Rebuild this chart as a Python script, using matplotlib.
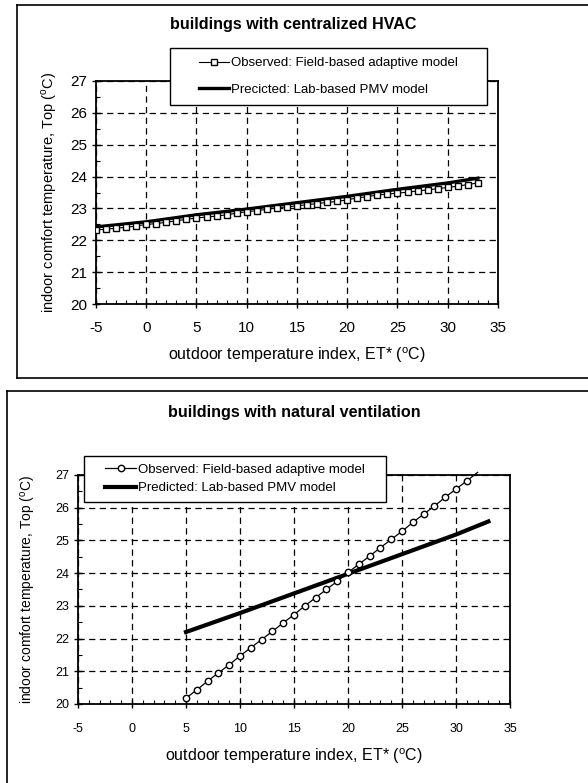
"""Comfort temperature vs outdoor ET*: field-based adaptive vs lab-based PMV."""

import matplotlib

matplotlib.use("Agg")
import matplotlib.pyplot as plt
from matplotlib.lines import Line2D
from matplotlib.patches import Rectangle
from matplotlib.ticker import MultipleLocator

plt.rcParams["font.family"] = ["Liberation Sans", "DejaVu Sans"]
plt.rcParams["mathtext.fontset"] = "custom"
plt.rcParams["mathtext.rm"] = "Liberation Sans"
plt.rcParams["axes.unicode_minus"] = False

# --- centralized HVAC -------------------------------------------------------
hvac_x = list(range(-5, 34))
hvac_observed = [22.32, 22.35, 22.38, 22.41, 22.45, 22.50, 22.52, 22.57, 22.61,
                 22.66, 22.70, 22.73, 22.76, 22.80, 22.85, 22.90, 22.93, 22.97,
                 23.02, 23.05, 23.08, 23.12, 23.15, 23.19, 23.22, 23.27, 23.33,
                 23.37, 23.42, 23.45, 23.48, 23.51, 23.55, 23.58, 23.62, 23.66,
                 23.70, 23.75, 23.80]
hvac_pmv_x = [-5, 0, 5, 10, 15, 20, 25, 30, 33]
hvac_pmv = [22.42, 22.58, 22.80, 22.98, 23.18, 23.38, 23.60, 23.80, 23.95]

# --- natural ventilation ----------------------------------------------------
nv_x = list(range(5, 33))
nv_observed = [20.18, 20.43, 20.70, 20.95, 21.20, 21.47, 21.72, 21.97, 22.22,
               22.48, 22.73, 23.00, 23.25, 23.50, 23.75, 24.02, 24.27, 24.52,
               24.78, 25.03, 25.28, 25.55, 25.80, 26.05, 26.32, 26.57, 26.82,
               27.08]
nv_pmv_x = [5, 10, 15, 20, 25, 30, 33]
nv_pmv = [22.20, 22.78, 23.38, 23.98, 24.58, 25.18, 25.58]

W, H = 588, 783
fig = plt.figure(figsize=(W / 100, H / 100), dpi=100)


def px_axes(left, top, right, bottom):
    return fig.add_axes([left / W, 1 - bottom / H, (right - left) / W, (bottom - top) / H])


def style_axes(ax, fs, pad):
    ax.set_xlim(-5, 35)
    ax.set_ylim(20, 27)
    ax.xaxis.set_major_locator(MultipleLocator(5))
    ax.yaxis.set_major_locator(MultipleLocator(1))
    ax.xaxis.set_minor_locator(MultipleLocator(1))
    ax.yaxis.set_minor_locator(MultipleLocator(0.5))
    ax.tick_params(which="major", direction="inout", length=6, width=1,
                   labelsize=fs, top=False, right=False)
    ax.tick_params(axis="x", which="major", pad=pad)
    ax.tick_params(which="minor", direction="in", length=3, width=0.8)
    ax.grid(True, which="major", color="black", linewidth=0.9,
            linestyle=(0, (5, 3.5)))
    for s in ax.spines.values():
        s.set_linewidth(1.3)


def frame(x0, y0, x1, y1):
    for xs, ys in [((x0, x0), (y0, y1)), ((x0, x1), (y0, y0)), ((x0, x1), (y1, y1))]:
        fig.add_artist(Line2D([x / W for x in xs], [1 - y / H for y in ys],
                              color="black", linewidth=1.2))


def legend_box(ax, x0, y0, x1, y1, spacing):
    fig.add_artist(Rectangle((x0 / W, 1 - y1 / H), (x1 - x0) / W, (y1 - y0) / H,
                             transform=fig.transFigure, facecolor="white",
                             edgecolor="black", linewidth=1.0, zorder=5))
    leg = ax.legend(loc="center", bbox_to_anchor=((x0 + x1) / 2 / W, 1 - (y0 + y1) / 2 / H),
                    bbox_transform=fig.transFigure, fontsize=9.5, frameon=False,
                    handlelength=2.3, handletextpad=0.15, borderpad=0.0,
                    labelspacing=spacing)
    leg.set_zorder(6)
    fig.add_artist(leg)
    leg.remove = None


# top panel
frame(17, 5, 600, 378)
ax1 = px_axes(96, 81, 498, 304)
style_axes(ax1, 11, 9)
ax1.plot(hvac_x, hvac_observed, color="black", linewidth=0.8, marker="s",
         markersize=4.3, markerfacecolor="white", markeredgecolor="black",
         markeredgewidth=1.0, label="Observed: Field-based adaptive model", zorder=4)
ax1.plot(hvac_pmv_x, hvac_pmv, color="black", linewidth=2.4,
         label="Precicted: Lab-based PMV model", zorder=3)
ax1.set_xlabel(r"outdoor temperature index, ET* ($^{\rm o}$C)", fontsize=11.5, labelpad=8)
ax1.set_ylabel(r"indoor comfort temperature, Top ($^{\rm o}$C)", fontsize=10.5, labelpad=8)
fig.text(293 / W, 1 - 24 / H, "buildings with centralized HVAC", ha="center",
         va="center", fontsize=11.6, fontweight="bold")
legend_box(ax1, 170, 48, 487, 105, 1.1)

# bottom panel
frame(7, 391, 600, 790)
ax2 = px_axes(78, 475, 510, 704)
style_axes(ax2, 9, 11)
ax2.plot(nv_x, nv_observed, color="black", linewidth=0.9, marker="o",
         markersize=4.6, markerfacecolor="white", markeredgecolor="black",
         markeredgewidth=1.0, markevery=list(range(len(nv_x) - 1)),
         label="Observed: Field-based adaptive model", clip_on=False, zorder=4)
ax2.plot(nv_pmv_x, nv_pmv, color="black", linewidth=3.0,
         label="Predicted: Lab-based PMV model", zorder=3)
ax2.set_xlabel(r"outdoor temperature index, ET* ($^{\rm o}$C)", fontsize=11.5, labelpad=8)
ax2.set_ylabel(r"indoor comfort temperature, Top ($^{\rm o}$C)", fontsize=10, labelpad=12)
fig.text(294 / W, 1 - 412 / H, "buildings with natural ventilation", ha="center",
         va="center", fontsize=11.6, fontweight="bold")
legend_box(ax2, 84, 456, 386, 502, 0.45)

fig.savefig("out.png", dpi=100)
plt.close(fig)
